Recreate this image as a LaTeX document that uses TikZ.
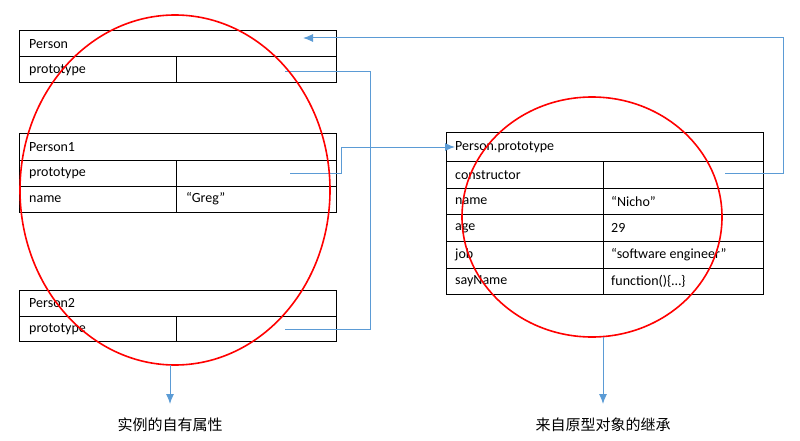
\documentclass[tikz,border=0pt]{standalone}
\usepackage{fontspec}
\usetikzlibrary{arrows.meta}
\setmainfont{Carlito}
\newfontfamily\cjk{Noto Sans CJK SC}
\begin{document}
\begin{tikzpicture}[x=1pt,y=-1pt,
  cellbox/.style={draw=black,line width=1pt},
  txt/.style={anchor=west,inner sep=0pt,font=\fontsize{14}{16}\selectfont},
  link/.style={draw={rgb,255:red,91;green,155;blue,213},line width=1pt},
  tip/.style={-{Latex[length=10pt,width=8pt]}},
  oval/.style={draw=red,line width=1.6pt}]
\useasboundingbox (0,0) rectangle (800,441);
% Person
\draw[cellbox] (19,31) rectangle (336,83); \draw[cellbox] (19,57)--(336,57) (176,57)--(176,83);
\node[txt] (p) at (29,44) {Person};
\node[txt] at (29,70) {prototype};
\coordinate (pp) at (285,72);
% Person1
\draw[cellbox] (19,134) rectangle (336,212); \draw[cellbox] (19,160)--(336,160) (19,186)--(336,186) (176,160)--(176,212);
\node[txt] at (29,147) {Person1};
\node[txt] at (29,173) {prototype};
\node[txt] at (29,199) {name};
\node[txt] at (186,199) {“Greg”};
\coordinate (p1p) at (290,173);
% Person2
\draw[cellbox] (19,290) rectangle (336,341); \draw[cellbox] (19,316)--(336,316) (176,316)--(176,341);
\node[txt] at (29,303) {Person2};
\node[txt] at (29,329) {prototype};
\coordinate (p2p) at (285,329);
% Person.prototype
\draw[cellbox] (446,133) rectangle (763,294);
\foreach \y in {161,188,214,241,268} \draw[cellbox] (446,\y)--(763,\y);
\draw[cellbox] (603,161)--(603,294);
\node[txt] (pt) at (455,147) {Person.prototype};
\node[txt] at (455,175) {constructor};
\node[txt] at (455,201) {name};
\node[txt] at (455,228) {age};
\node[txt] at (455,255) {job};
\node[txt] at (455,281) {sayName};
\node[txt] at (611,201) {“Nicho”};
\node[txt] at (611,228) {29};
\node[txt] at (611,255) {“software engineer”};
\node[txt] at (611,281) {function()\{…\}};
\coordinate (ct) at (725,173);
\coordinate (ptin) at (455,147);
\coordinate (pin) at (303,38);
% connectors
\draw[link] (pp) -| (370,147);
\draw[link] (p2p) -| (370,147);
\draw[link] (p1p) -| (341,147) -- (370,147);
\draw[link,tip] (370,147) -- (ptin);
\draw[link,tip] (ct) -| (783,38) -- (pin);
% ellipses
\draw[oval] (175,190) ellipse [x radius=155,y radius=175];
\draw[oval] (592,217) ellipse [x radius=130,y radius=120];
\coordinate (e1) at (170,365); \coordinate (e2) at (603,337);
\node[font=\cjk\fontsize{15}{17}\selectfont] (l1) at (170,425) {实例的自有属性};
\node[font=\cjk\fontsize{15}{17}\selectfont] (l2) at (603,425) {来自原型对象的继承};
\draw[link,tip] (e1) -- (170,404);
\draw[link,tip] (e2) -- (603,404);
\end{tikzpicture}
\end{document}
